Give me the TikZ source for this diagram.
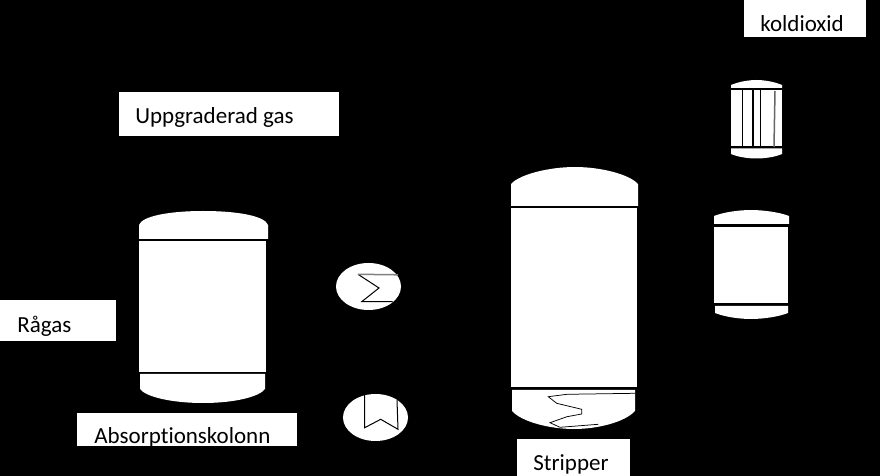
\documentclass[tikz,border=0pt]{standalone}
\usepackage{fontspec}
\setmainfont[Ligatures=NoCommon]{Carlito}
\tikzset{
	part/.style={fill=white, draw=none},
	tube/.style={line width=0.3mm, color=black},
	label/.style={anchor=base west, inner sep=0pt, font=\fontsize{13.1pt}{16pt}\selectfont}
}

\begin{document}
\begin{tikzpicture}[x=0.02cm, y=-0.02cm]
		%%%%% BACKGROUND %%%%%
		\fill[black] (0, 0) rectangle (880, 476);
		\useasboundingbox (0, 0) rectangle (880, 476);
		
		%%%%% LABEL BOXES %%%%%
		\fill[part] (119, 92) rectangle (339, 136);
		\node[label] (uppgraderad) at (135, 124) {Uppgraderad gas};
		\fill[part] (744, 0) rectangle (866, 37);
		\node[label] (koldioxid) at (760, 32) {koldioxid};
		\fill[part] (0, 300) rectangle (116, 341);
		\node[label] (ragas) at (17, 333) {Rågas};
		\fill[part] (517, 439) rectangle (630, 476);
		\node[label] (stripper) at (533, 471) {Stripper};
		\fill[part] (77, 413) rectangle (297, 446);
		\node[label] (absorption) at (94, 444) {Absorptionskolonn};
		\fill[black] (77, 446) rectangle (297, 452);
		
		%%%%% ABSORPTION COLUMN %%%%%
		\fill[part] (139, 239) -- (139, 225) .. controls (142, 216) and (170, 211) .. (203, 211) .. controls (238, 211) and (265, 216) .. (268, 225) -- (268, 239) -- cycle;
		\fill[part] (139, 241) rectangle (266, 372);
		\fill[part] (140, 374) -- (140, 389) .. controls (146, 397) and (172, 403) .. (203, 403) .. controls (234, 403) and (259, 397) .. (265, 389) -- (265, 374) -- cycle;
		
		%%%%% STRIPPER %%%%%
		\fill[part] (511, 206) -- (511, 184) .. controls (520, 174) and (550, 167) .. (575, 167) .. controls (600, 167) and (629, 174) .. (638, 184) -- (638, 206) -- cycle;
		\fill[part] (511, 208) rectangle (637, 387);
		\fill[part] (512, 390) -- (512, 411) .. controls (522, 422) and (550, 429) .. (574, 429) .. controls (598, 429) and (625, 422) .. (635, 411) -- (635, 390) -- cycle;
		\draw[line width=0.15mm, color=black] (635, 393.3) -- (567, 394.3) -- (548.3, 396.7) -- (556.7, 403.3) -- (581.7, 409.3) -- (581.7, 414) -- (567, 416.7) -- (550, 422.7) -- (560, 427.3) -- (598.3, 424.3);
		
		%%%%% CONDENSER %%%%%
		\fill[part] (731, 88) -- (731, 85) .. controls (738, 82) and (748, 80) .. (756.5, 80) .. controls (765, 80) and (775, 82) .. (782, 85) -- (782, 88) -- cycle;
		\fill[part] (731, 90) rectangle (782, 146);
		\fill[part] (731, 148.5) -- (731, 154) .. controls (738, 157) and (748, 158.5) .. (756.5, 158.5) .. controls (765, 158.5) and (775, 157) .. (782, 154) -- (782, 148.5) -- cycle;
		\draw[tube] (742.5, 88) -- (742.5, 147);
		\draw[tube] (753, 90) -- (753, 147);
		\draw[tube] (760.5, 90) -- (760.5, 147);
		\draw[line width=0.3mm, color=black!60] (775, 91) -- (774, 147);
		
		%%%%% SEPARATOR %%%%%
		\fill[part] (714, 224) -- (714, 216) .. controls (724, 212) and (740, 210) .. (751, 210) .. controls (762, 210) and (779, 212) .. (789, 216) -- (789, 224) -- cycle;
		\fill[part] (714, 227) rectangle (788, 303);
		\fill[part] (715, 306) -- (715, 313) .. controls (725, 317) and (740, 319) .. (751, 319) .. controls (762, 319) and (778, 317) .. (788, 313) -- (788, 306) -- cycle;
		
		%%%%% HEAT EXCHANGERS %%%%%
		\fill[part] (368.5, 286.5) ellipse (32.5 and 23.5);
		\draw[line width=0.2mm] (358, 274.3) -- (379, 288) -- (361.7, 301.7) -- (392.7, 301.7);
		\draw[line width=0.3mm, color=black!50] (358, 274.3) -- (398, 274.8);
		\fill[part] (375.5, 417.5) ellipse (32.5 and 23.5);
		\draw[line width=0.2mm] (364.7, 395) -- (364.7, 427.7) -- (380.7, 419.3) -- (398, 429.3) -- (397, 400);
\end{tikzpicture}
\end{document}
